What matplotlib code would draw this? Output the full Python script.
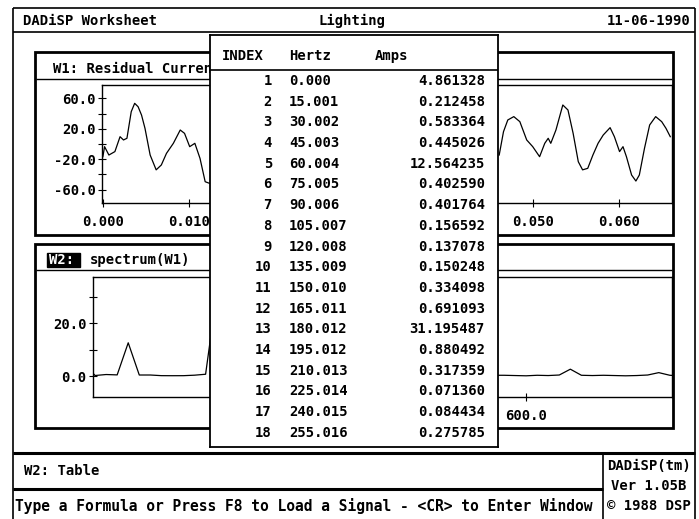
import matplotlib
matplotlib.use('Agg')
import matplotlib.pyplot as plt
from matplotlib.patches import Rectangle

# ---------------- data ----------------
table_index = list(range(1, 19))
hertz = [0.000, 15.001, 30.002, 45.003, 60.004, 75.005, 90.006, 105.007, 120.008,
         135.009, 150.010, 165.011, 180.012, 195.012, 210.013, 225.014, 240.015, 255.016]
amps = [4.861328, 0.212458, 0.583364, 0.445026, 12.564235, 0.402590, 0.401764, 0.156592,
        0.137078, 0.150248, 0.334098, 0.691093, 31.195487, 0.880492, 0.317359, 0.071360,
        0.084434, 0.275785]

# visible upper part of the spectrum (right of the table)
spec_hz_ext = [570.036, 585.037, 600.038, 615.039, 630.039, 645.040, 660.041, 675.042,
               690.043, 705.044, 720.045, 735.046, 750.047, 765.048, 780.049, 795.050, 810.051]
spec_amp_ext = [0.3, 0.2, 0.1, 0.3, 0.2, 0.4, 2.6, 0.3, 0.2, 0.3, 0.2, 0.1, 0.2, 0.4, 1.3, 0.3, 0.1]

# W1 residual current, visible parts (seconds, amps)
w1_t_left = [0.0000, 0.0002, 0.0007, 0.0014, 0.0020, 0.0024, 0.0028, 0.0033, 0.0037,
             0.0041, 0.0045, 0.0049, 0.0055, 0.0062, 0.0068, 0.0074, 0.0082, 0.0090,
             0.0095, 0.0101, 0.0107, 0.0113, 0.0119, 0.0124]
w1_v_left = [-16.7, -3.5, -14.5, -10.0, 9.6, 5.3, 7.5, 42.5, 53.5,
             49.0, 38.0, 20.6, -14.5, -34.0, -27.6, -12.3, 0.9, 18.4,
             14.0, -3.5, 0.9, -18.9, -49.6, -51.7]
w1_t_right = [0.0461, 0.0466, 0.0471, 0.0478, 0.0485, 0.0493, 0.0500, 0.0508, 0.0514,
              0.0518, 0.0521, 0.0527, 0.0535, 0.0541, 0.0547, 0.0553, 0.0558, 0.0564,
              0.0570, 0.0576, 0.0582, 0.0590, 0.0595, 0.0601, 0.0605, 0.0609, 0.0615,
              0.0620, 0.0624, 0.0630, 0.0636, 0.0643, 0.0650, 0.0655, 0.0660]
w1_v_right = [-14.5, 16.2, 31.6, 36.0, 29.4, 5.3, -3.5, -16.7, 0.9,
              7.5, 0.9, 18.4, 51.3, 44.7, 14.0, -23.3, -34.0, -32.0,
              -14.5, 0.9, 11.8, 21.5, 9.6, -10.0, -3.5, -16.7, -40.8,
              -48.7, -40.8, -5.7, 25.0, 36.0, 29.4, 20.6, 9.6]

w1_yticks = [-60, -20, 20, 60]
w1_yticklabels = ['-60.0', '-20.0', '20.0', '60.0']
# tick labels that lie under the table are left blank (they are hidden in the reference)
w1_xticks = [0.00, 0.01, 0.02, 0.03, 0.04, 0.05, 0.06]
w1_xticklabels = ['0.000', '0.010', '', '', '', '0.050', '0.060']
w2_yticks = [0, 20]
w2_yticklabels = ['0.0', '20.0']
w2_xticks = [200, 400, 600]
w2_xticklabels = ['', '', '600.0']

# ---------------- figure ----------------
W, H = 699, 519
plt.rcParams['font.family'] = ['DejaVu Sans Mono', 'DejaVu Sans']
plt.rcParams['font.weight'] = 'bold'
plt.rcParams['axes.unicode_minus'] = False
FS = 10

fig = plt.figure(figsize=(W / 100, H / 100), dpi=100)
fig.patch.set_facecolor('white')


def px_axes(x0, y0, x1, y1, z):
    ax = fig.add_axes([x0 / W, 1 - y1 / H, (x1 - x0) / W, (y1 - y0) / H])
    ax.set_zorder(z)
    return ax


bg = px_axes(0, 0, W, H, 0)
bg.set_xlim(0, W)
bg.set_ylim(H, 0)
bg.axis('off')


def hline(y, x0, x1, lw=1.0):
    bg.plot([x0, x1], [y, y], color='black', lw=lw, solid_capstyle='butt')


def vline(x, y0, y1, lw=1.0):
    bg.plot([x, x], [y0, y1], color='black', lw=lw, solid_capstyle='butt')


def txt(x, y, s, ha='left', **kw):
    bg.text(x, y, s, ha=ha, va='center', fontsize=kw.pop('fs', FS), fontweight='bold', **kw)


# outer frame
hline(8, 13, 695, 1.2)
vline(13, 8, 519, 1.2)
vline(695, 8, 519, 1.2)
hline(32, 13, 695, 1.2)
txt(23, 21, 'DADiSP Worksheet')
txt(352, 21, 'Lighting', ha='center')
txt(690, 21, '11-06-1990', ha='right')

# W1 window
bg.add_patch(Rectangle((35, 52), 638, 183, fill=False, lw=2.0, ec='black'))
hline(79, 36, 672, 1.0)
txt(53, 69, 'W1: Residual Current')

# W2 window
bg.add_patch(Rectangle((35, 244), 638, 184, fill=False, lw=2.0, ec='black'))
hline(270, 36, 672, 1.0)
bg.add_patch(Rectangle((47, 253), 33, 14, color='black'))
txt(49, 260, 'W2:', color='white')
txt(90, 260, 'spectrum(W1)')

# status area
hline(453, 13, 695, 2.2)
hline(489, 13, 603, 2.2)
vline(603, 453, 519, 1.2)
txt(24, 471, 'W2: Table')
txt(15, 506, 'Type a Formula or Press F8 to Load a Signal - <CR> to Enter Window', fs=10.5)
txt(649, 466, 'DADiSP(tm)', ha='center')
txt(649, 486, 'Ver 1.05B', ha='center')
txt(649, 506, '\u00a9 1988 DSP', ha='center')

# ---------------- W1 plot ----------------
ax1 = px_axes(102, 85, 672, 203, 1)
ax1.plot(w1_t_left, w1_v_left, color='black', lw=0.9)
ax1.plot(w1_t_right, w1_v_right, color='black', lw=0.9)
ax1.set_xlim(-0.0001, 0.0662)
ax1.set_ylim(-77.6, 77.6)
ax1.set_yticks(w1_yticks)
ax1.set_yticklabels(w1_yticklabels)
ax1.set_yticks([-40, 0, 40], minor=True)
ax1.set_xticks(w1_xticks)
ax1.set_xticklabels(w1_xticklabels)

# ---------------- W2 plot ----------------
ax2 = px_axes(93, 277, 672, 397, 1)
ax2.plot(hertz + spec_hz_ext, amps + spec_amp_ext, color='black', lw=0.9)
ax2.set_xlim(12.2, 798)
ax2.set_ylim(-7.9, 37.4)
ax2.set_yticks(w2_yticks)
ax2.set_yticklabels(w2_yticklabels)
ax2.set_yticks([10, 30], minor=True)
ax2.set_xticks(w2_xticks)
ax2.set_xticklabels(w2_xticklabels)

for ax in (ax1, ax2):
    for sp in ax.spines.values():
        sp.set_linewidth(1.0)
    ax.tick_params(which='both', direction='inout', length=6, width=0.8,
                   labelsize=FS, pad=1.5)
    ax.tick_params(axis='x', pad=6)
    for lab in ax.get_xticklabels() + ax.get_yticklabels():
        lab.set_fontweight('bold')

# ---------------- table ----------------
axt = px_axes(210, 35, 498, 447, 5)
axt.set_xlim(210, 498)
axt.set_ylim(447, 35)
axt.set_xticks([])
axt.set_yticks([])
for sp in axt.spines.values():
    sp.set_linewidth(1.3)
axt.axhline(70, color='black', lw=1.2)
axt.text(222, 56, 'INDEX', ha='left', va='center', fontsize=FS, fontweight='bold')
axt.text(289, 56, 'Hertz', ha='left', va='center', fontsize=FS, fontweight='bold')
axt.text(375, 56, 'Amps', ha='left', va='center', fontsize=FS, fontweight='bold')
row_h = 20.7
for i, (n, hz, a) in enumerate(zip(table_index, hertz, amps)):
    y = 81 + i * row_h
    axt.text(272, y, f'{n}', ha='right', va='center', fontsize=FS, fontweight='bold')
    axt.text(289, y, f'{hz:.3f}', ha='left', va='center', fontsize=FS, fontweight='bold')
    axt.text(485, y, f'{a:.6f}', ha='right', va='center', fontsize=FS, fontweight='bold')

fig.savefig('out.png', dpi=100)
